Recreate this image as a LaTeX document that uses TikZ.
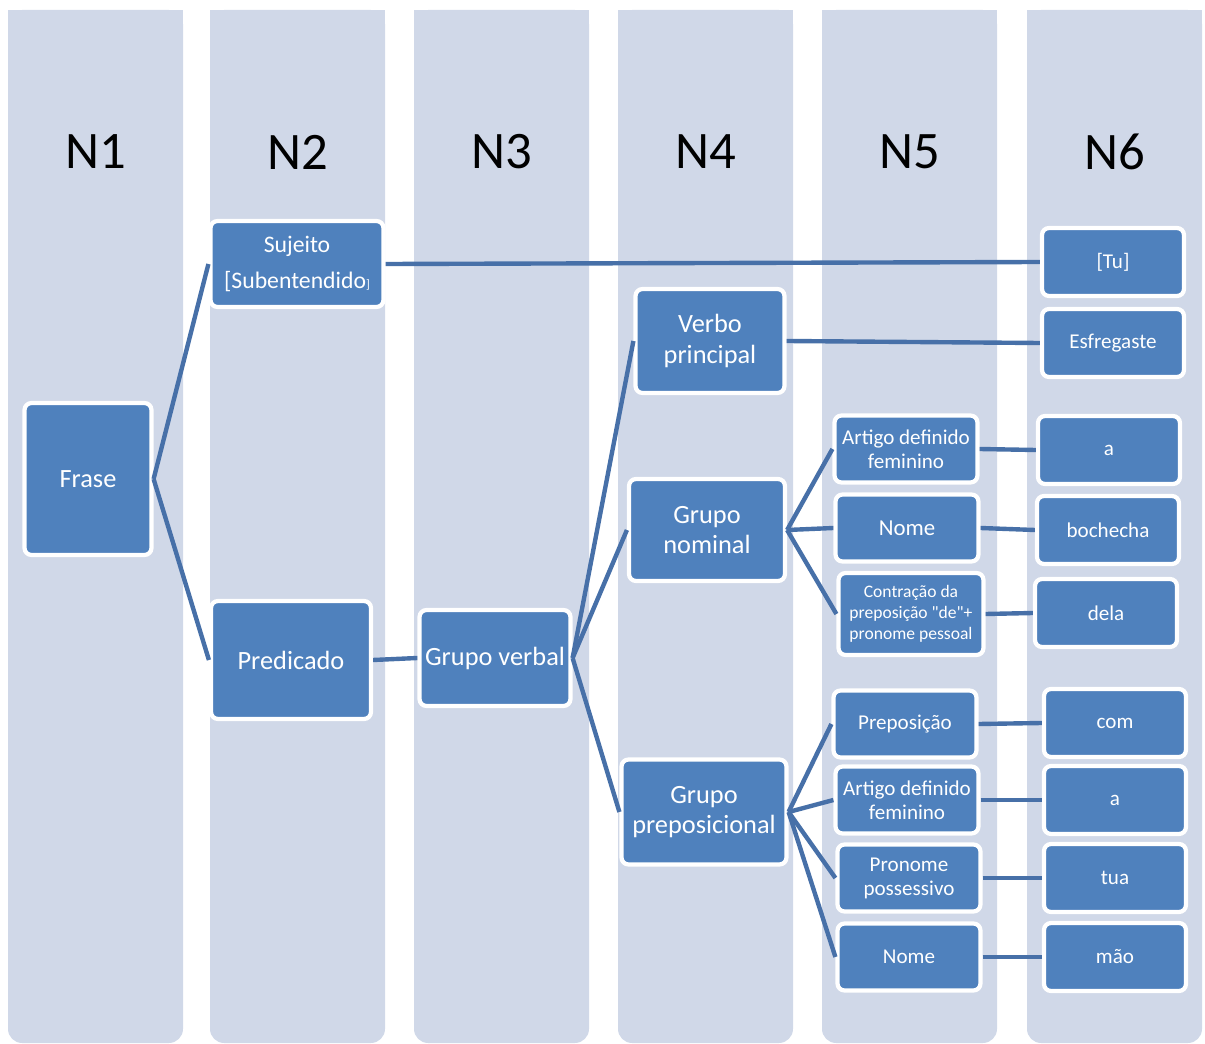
\documentclass[tikz,border=0pt]{standalone}
\usepackage{fontspec}
\setmainfont{Carlito}
\usetikzlibrary{positioning}
\definecolor{colfundo}{HTML}{D0D8E8}
\definecolor{azulcaixa}{HTML}{4F81BD}
\definecolor{azullinha}{HTML}{4770A8}
\tikzset{
caixa/.style={rectangle, rounded corners=4pt, fill=azulcaixa, draw=white, line width=2.4pt,
  text=white, align=center, inner sep=2pt, font=\fontsize{12}{13.6}\selectfont},
grande/.style={caixa, font=\fontsize{15}{17.5}\selectfont},
ramo/.style={caixa, minimum width=2.86cm, minimum height=1.34cm},
folha/.style={caixa, minimum width=2.84cm, minimum height=1.36cm},
liga/.style={draw=azullinha, line width=2.5pt},
titulo/.style={font=\fontsize{30}{36}\selectfont}}

\begin{document}
\begin{tikzpicture}[x=0.02cm, y=-0.02cm]
        \useasboundingbox (0,0) rectangle (1205,1044);
        % colunas
        \fill[colfundo, rounded corners=8pt] (8,1043) rectangle (183,10);
        \fill[colfundo, rounded corners=8pt] (210,1043) rectangle (385,10);
        \fill[colfundo, rounded corners=8pt] (414,1043) rectangle (589,10);
        \fill[colfundo, rounded corners=8pt] (618,1043) rectangle (793,10);
        \fill[colfundo, rounded corners=8pt] (822,1043) rectangle (997,10);
        \fill[colfundo, rounded corners=8pt] (1027,1043) rectangle (1202,10);
        \fill[colfundo] (8,10) rectangle (183,40);
        \fill[colfundo] (210,10) rectangle (385,40);
        \fill[colfundo] (414,10) rectangle (589,40);
        \fill[colfundo] (618,10) rectangle (793,40);
        \fill[colfundo] (822,10) rectangle (997,40);
        \fill[colfundo] (1027,10) rectangle (1202,40);
        \node[titulo] (n1) at (96,152) {N1};
        \node[titulo] (n2) at (298,152) {N2};
        \node[titulo] (n3) at (502,152) {N3};
        \node[titulo] (n4) at (706,152) {N4};
        \node[titulo] (n5) at (910,152) {N5};
        \node[titulo] (n6) at (1115,152) {N6};
        % caixas
        \node[grande, minimum width=2.54cm, minimum height=3.04cm] (frase) at (88,479) {Frase};
        \node[caixa, minimum width=3.46cm, minimum height=1.72cm, font=\fontsize{13.5}{21}\selectfont] (sujeito) at (297,264) {Sujeito\\{}[Subentendido{\scriptsize]}};
        \node[grande, minimum width=3.2cm, minimum height=2.36cm] (predicado) at (291,660) {Predicado};
        \node[grande, minimum width=3.02cm, minimum height=1.92cm] (gverbal) at (495,658) {Grupo verbal};
        \node[grande, minimum width=2.98cm, minimum height=2.08cm] (verbo) at (710,341) {Verbo\\principal};
        \node[grande, minimum width=3.12cm, minimum height=2.04cm] (gnominal) at (707,530) {Grupo\\nominal};
        \node[grande, minimum width=3.3cm, minimum height=2.1cm] (gprep) at (704,812) {Grupo\\preposicional};
        \node[ramo] (art1) at (906,449) {Artigo definido\\feminino};
        \node[ramo, font=\fontsize{13}{15}\selectfont] (nome1) at (907,528) {Nome};
        \node[ramo, minimum width=2.9cm, minimum height=1.64cm, font=\fontsize{10}{12}\selectfont] (contr) at (911,614) {Contração da\\preposição \textquotedbl de\textquotedbl +\\pronome pessoal};
        \node[ramo] (prep) at (905,724) {Preposição};
        \node[ramo] (art2) at (907,800) {Artigo definido\\feminino};
        \node[ramo] (pron) at (909,878) {Pronome\\possessivo};
        \node[ramo] (nome2) at (909,957) {Nome};
        \node[folha] (tu) at (1113,262) {[Tu]};
        \node[folha] (esfreg) at (1113,343) {Esfregaste};
        \node[folha] (a1) at (1109,450) {a};
        \node[folha] (bochecha) at (1108,530) {bochecha};
        \node[folha] (dela) at (1106,613) {dela};
        \node[folha] (com) at (1115,723) {com};
        \node[folha] (a2) at (1115,800) {a};
        \node[folha] (tua) at (1115,878) {tua};
        \node[folha] (mao) at (1115,957) {mão};
        % ligacoes
        \draw[liga] (frase.east)--(sujeito.west);
        \draw[liga] (frase.east)--(predicado.west);
        \draw[liga] (sujeito.east)--(tu.west);
        \draw[liga] (predicado.east)--(gverbal.west);
        \draw[liga] (gverbal.east)--(verbo.west);
        \draw[liga] (gverbal.east)--(gnominal.west);
        \draw[liga] (gverbal.east)--(gprep.west);
        \draw[liga] (verbo.east)--(esfreg.west);
        \draw[liga] (gnominal.east)--(art1.west);
        \draw[liga] (gnominal.east)--(nome1.west);
        \draw[liga] (gnominal.east)--(contr.west);
        \draw[liga] (art1.east)--(a1.west);
        \draw[liga] (nome1.east)--(bochecha.west);
        \draw[liga] (contr.east)--(dela.west);
        \draw[liga] (gprep.east)--(prep.west);
        \draw[liga] (gprep.east)--(art2.west);
        \draw[liga] (gprep.east)--(pron.west);
        \draw[liga] (gprep.east)--(nome2.west);
        \draw[liga] (prep.east)--(com.west);
        \draw[liga] (art2.east)--(a2.west);
        \draw[liga] (pron.east)--(tua.west);
        \draw[liga] (nome2.east)--(mao.west);
    \end{tikzpicture}
\end{document}
